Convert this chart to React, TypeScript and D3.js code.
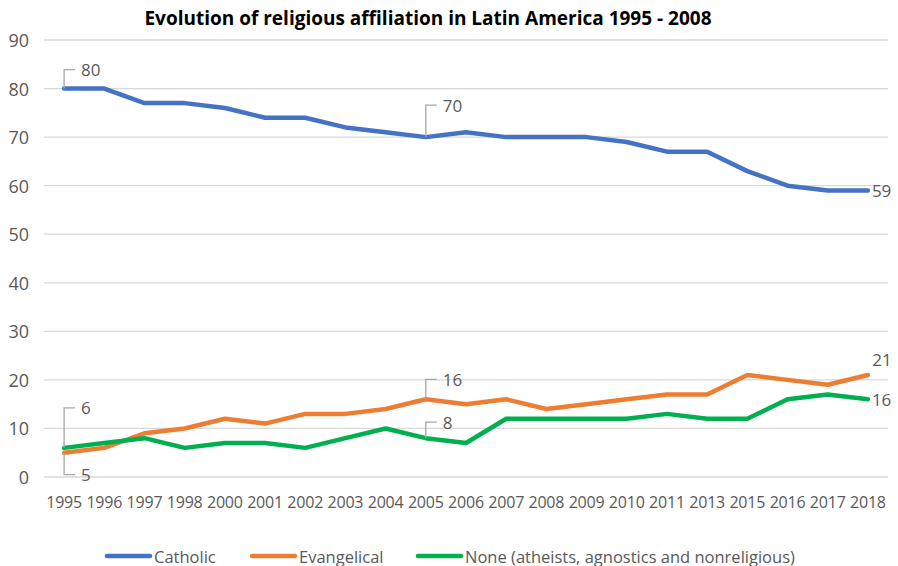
import { useEffect, useRef } from "react";
import * as d3 from "d3";

const years = [
  "1995", "1996", "1997", "1998", "2000", "2001", "2002", "2003", "2004", "2005", "2006",
  "2007", "2008", "2009", "2010", "2011", "2013", "2015", "2016", "2017", "2018",
];
const catholic = [80, 80, 77, 77, 76, 74, 74, 72, 71, 70, 71, 70, 70, 70, 69, 67, 67, 63, 60, 59, 59];
const evangelical = [5, 6, 9, 10, 12, 11, 13, 13, 14, 16, 15, 16, 14, 15, 16, 17, 17, 21, 20, 19, 21];
const none = [6, 7, 8, 6, 7, 7, 6, 8, 10, 8, 7, 12, 12, 12, 12, 13, 12, 12, 16, 17, 16];
const yTicks = [0, 10, 20, 30, 40, 50, 60, 70, 80, 90];

const seriesNames = ["Catholic", "Evangelical", "None (atheists, agnostics and nonreligious)"];
const seriesValues = [catholic, evangelical, none];
const seriesColors = ["#4472C4", "#ED7D31", "#00B050"];

// data labels: series index, point index, kind of leader
type Label = { s: number; i: number; kind: "up" | "down" | "right" | "above" };
const labels: Label[] = [
  { s: 0, i: 0, kind: "up" },
  { s: 0, i: 9, kind: "up" },
  { s: 0, i: 20, kind: "right" },
  { s: 1, i: 0, kind: "down" },
  { s: 1, i: 9, kind: "up" },
  { s: 1, i: 20, kind: "above" },
  { s: 2, i: 0, kind: "up" },
  { s: 2, i: 9, kind: "up" },
  { s: 2, i: 20, kind: "right" },
];

const W = 898;
const H = 566;
const FONT = "'Open Sans', 'Liberation Sans', sans-serif";

export default function App() {
  const svgRef = useRef<SVGSVGElement>(null);

  useEffect(() => {
    const svg = d3.select(svgRef.current);
    svg.selectAll("*").remove();

    const x = d3.scalePoint<string>().domain(years).range([44, 888]).padding(0.5);
    const y = d3.scaleLinear().domain([0, 90]).range([477, 40]);

    svg.append("rect").attr("width", W).attr("height", H).attr("fill", "#fff");

    // title
    svg.append("text")
      .attr("x", 428).attr("y", 25)
      .attr("text-anchor", "middle")
      .attr("font-family", FONT)
      .attr("font-size", 19)
      .attr("font-weight", 700)
      .attr("fill", "#000")
      .text("Evolution of religious affiliation in Latin America 1995 - 2008");

    // gridlines + y labels
    const grid = svg.append("g");
    yTicks.forEach((t) => {
      grid.append("line")
        .attr("x1", 44).attr("x2", 888)
        .attr("y1", y(t)).attr("y2", y(t))
        .attr("stroke", "#d9d9d9").attr("stroke-width", 1.3);
      grid.append("text")
        .attr("x", 29).attr("y", y(t))
        .attr("text-anchor", "end")
        .attr("dominant-baseline", "central")
        .attr("font-family", FONT).attr("font-size", 18)
        .attr("fill", "#595959")
        .text(t);
    });

    // x labels
    svg.append("g").selectAll("text")
      .data(years)
      .join("text")
      .attr("x", (d) => x(d)!)
      .attr("y", 502)
      .attr("text-anchor", "middle")
      .attr("dominant-baseline", "central")
      .attr("font-family", FONT).attr("font-size", 16)
      .attr("letter-spacing", "-0.2")
      .attr("fill", "#595959")
      .text((d) => d);

    // lines
    const line = d3.line<number>()
      .x((_, i) => x(years[i])!)
      .y((v) => y(v));

    seriesValues.forEach((vals, s) => {
      svg.append("path")
        .attr("d", line(vals))
        .attr("fill", "none")
        .attr("stroke", seriesColors[s])
        .attr("stroke-width", 4.5)
        .attr("stroke-linejoin", "round")
        .attr("stroke-linecap", "round");
    });

    // data labels
    const lg = svg.append("g");
    labels.forEach(({ s, i, kind }) => {
      const v = seriesValues[s][i];
      const px = x(years[i])!;
      const py = y(v);
      const txt = (tx: number, ty: number, anchor = "start") =>
        lg.append("text")
          .attr("x", tx).attr("y", ty)
          .attr("text-anchor", anchor)
          .attr("dominant-baseline", "central")
          .attr("font-family", FONT).attr("font-size", 17)
          .attr("fill", "#595959")
          .text(v);
      if (kind === "up" || kind === "down") {
        let ly = kind === "up" ? py - 19 : py + 22;
        if (s === 2 && i === 0) ly = py - 40;
        if (s === 2 && i === 9) ly = py - 16;
        if (s === 1 && i === 9) ly = py - 20;
        if (s === 0 && i === 9) ly = py - 32;
        lg.append("path")
          .attr("d", `M${px},${py} L${px},${ly} L${px + 11},${ly}`)
          .attr("fill", "none")
          .attr("stroke", "#a6a6a6")
          .attr("stroke-width", 1.3);
        txt(px + 17, ly);
      } else if (kind === "right") {
        txt(px + 4, py);
      } else {
        txt(px + 14, py - 16, "middle");
      }
    });

    // legend
    const legendX = [107, 252, 418];
    seriesNames.forEach((name, s) => {
      const g = svg.append("g").attr("transform", `translate(${legendX[s]},556)`);
      g.append("line")
        .attr("x1", 0).attr("x2", 43)
        .attr("stroke", seriesColors[s])
        .attr("stroke-width", 4.5)
        .attr("stroke-linecap", "round");
      g.append("text")
        .attr("x", 47).attr("y", 0)
        .attr("dominant-baseline", "central")
        .attr("font-family", FONT).attr("font-size", 16.5)
        .attr("fill", "#595959")
        .text(name);
    });
  }, []);

  return (
    <svg
      ref={svgRef}
      width={W}
      height={H}
      style={{ display: "block", position: "fixed", top: 0, left: 0 }}
    />
  );
}
